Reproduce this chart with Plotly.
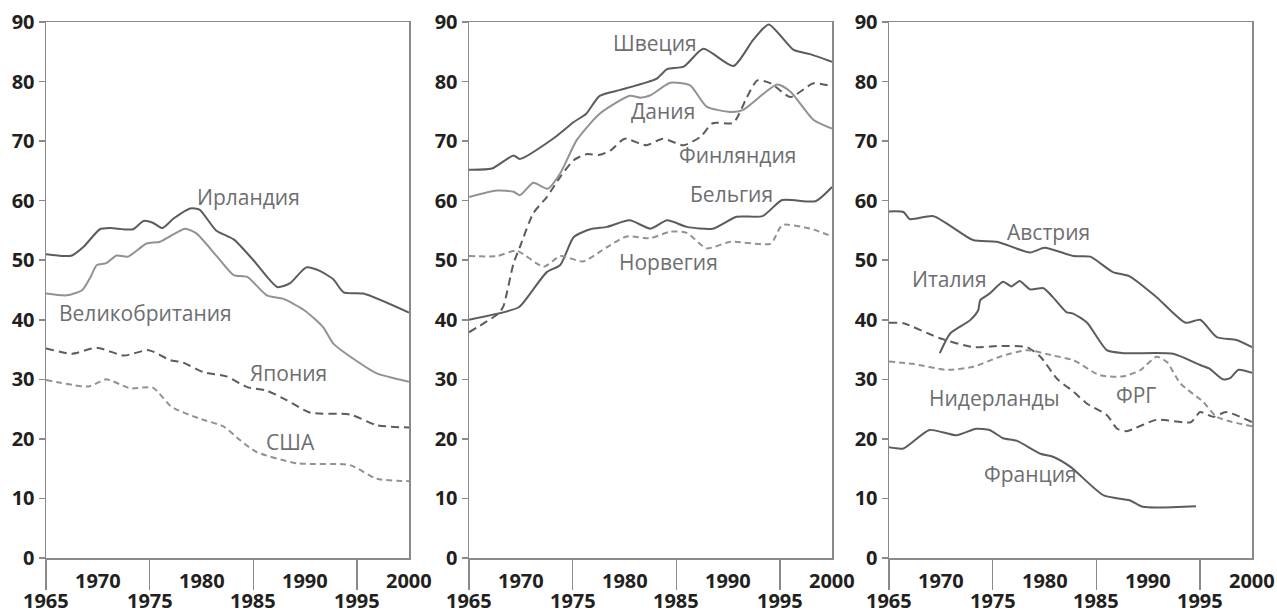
import plotly.graph_objects as go

# ---------------- data ----------------
# Panel 1
ireland_x = [1965, 1966.7, 1967.5, 1968.6, 1970.2, 1971.2, 1973.4, 1974.4, 1975.3, 1976.2, 1977.3, 1978.9, 1979.8, 1981.4, 1983.1, 1985.0, 1987.3, 1988.5, 1990.1, 1991.4, 1992.7, 1993.7, 1995.6, 2000]
ireland_y = [51.0, 50.7, 50.8, 52.2, 55.2, 55.4, 55.2, 56.6, 56.3, 55.4, 57.0, 58.7, 58.5, 55.0, 53.5, 50.0, 45.5, 46.1, 48.8, 48.2, 46.8, 44.6, 44.4, 41.2]

uk_x = [1965, 1967.0, 1968.5, 1969.3, 1969.9, 1970.8, 1971.8, 1972.9, 1974.7, 1976.0, 1978.4, 1979.5, 1981.5, 1983.1, 1984.4, 1986.3, 1987.9, 1989.9, 1991.7, 1992.7, 1994.6, 1996.9, 2000]
uk_y = [44.4, 44.1, 45.0, 47.2, 49.2, 49.5, 50.8, 50.6, 52.8, 53.1, 55.3, 54.5, 50.6, 47.5, 47.2, 44.1, 43.5, 41.6, 38.8, 36.0, 33.5, 31.0, 29.6]

japan_x = [1965, 1967.5, 1969.9, 1972.5, 1974.9, 1977.0, 1978.1, 1980.2, 1982.4, 1984.4, 1986.3, 1988.2, 1990.5, 1994.3, 1996.9, 2000]
japan_y = [35.2, 34.3, 35.3, 34.0, 34.9, 33.2, 32.9, 31.2, 30.5, 28.7, 28.1, 26.5, 24.4, 24.1, 22.3, 21.9]

usa_x = [1965, 1969.1, 1970.8, 1973.1, 1975.3, 1977.1, 1979.8, 1982.1, 1983.7, 1985.3, 1989.2, 1994.3, 1996.9, 2000]
usa_y = [29.9, 28.8, 30.0, 28.5, 28.6, 25.4, 23.4, 22.1, 19.8, 17.8, 15.9, 15.6, 13.3, 12.9]

# Panel 2
sweden_x = [1965, 1967.2, 1969.3, 1969.9, 1973.1, 1975.1, 1976.3, 1977.6, 1979.6, 1983.1, 1984.1, 1985.7, 1987.6, 1990.5, 1992.4, 1993.9, 1996.3, 1997.9, 2000]
sweden_y = [65.2, 65.4, 67.6, 67.0, 70.4, 73.2, 74.6, 77.6, 78.6, 80.5, 82.1, 82.5, 85.5, 82.6, 87.0, 89.6, 85.3, 84.6, 83.3]

denmark_x = [1965, 1967.7, 1969.3, 1969.9, 1971.2, 1972.6, 1973.8, 1975.4, 1977.6, 1980.5, 1981.5, 1982.5, 1984.4, 1986.3, 1987.9, 1990.2, 1991.4, 1994.7, 1996.0, 1998.2, 2000]
denmark_y = [60.6, 61.7, 61.5, 60.9, 63.0, 62.0, 64.6, 70.2, 74.6, 77.6, 77.3, 77.7, 79.8, 79.4, 75.8, 74.9, 75.2, 79.5, 78.3, 73.6, 72.1]

finland_x = [1965, 1967.8, 1968.3, 1969.3, 1969.9, 1971.2, 1972.5, 1973.8, 1975.1, 1976.3, 1977.6, 1978.7, 1980.0, 1982.1, 1983.7, 1985.7, 1987.3, 1988.5, 1990.5, 1991.8, 1992.8, 1994.1, 1996.0, 1998.2, 2000]
finland_y = [37.9, 41.0, 42.2, 49.5, 52.2, 57.9, 60.6, 64.0, 66.8, 67.8, 67.7, 68.5, 70.4, 69.3, 70.4, 69.3, 70.7, 73.0, 73.1, 77.4, 80.2, 79.7, 77.4, 79.7, 79.2]

belgium_x = [1965, 1969.8, 1970.9, 1972.5, 1973.8, 1975.1, 1976.7, 1978.3, 1980.5, 1982.5, 1984.1, 1986.0, 1988.5, 1990.8, 1993.3, 1995.2, 1998.4, 2000]
belgium_y = [40.0, 42.1, 44.4, 48.0, 49.2, 53.9, 55.2, 55.6, 56.7, 55.3, 56.7, 55.6, 55.3, 57.3, 57.4, 60.1, 59.9, 62.3]

norway_x = [1965, 1967.7, 1969.6, 1972.2, 1973.8, 1976.0, 1978.3, 1980.2, 1982.5, 1984.4, 1986.0, 1987.9, 1990.2, 1994.1, 1995.2, 1997.9, 2000]
norway_y = [50.7, 50.7, 51.6, 48.9, 50.7, 49.8, 52.2, 54.0, 53.7, 54.8, 54.6, 52.0, 53.1, 52.8, 55.9, 55.3, 54.0]

# Panel 3
austria_x = [1965, 1966.4, 1967.0, 1969.3, 1973.1, 1975.4, 1978.6, 1980.0, 1982.8, 1984.4, 1986.6, 1988.2, 1990.8, 1993.6, 1995.0, 1996.6, 1998.5, 2000]
austria_y = [58.2, 58.1, 56.9, 57.4, 53.4, 53.1, 51.3, 52.1, 50.7, 50.6, 48.0, 47.3, 43.8, 39.5, 40.0, 37.1, 36.6, 35.4]

italy_x = [1969.9, 1970.9, 1972.8, 1973.6, 1973.8, 1974.7, 1976.0, 1976.8, 1977.6, 1978.6, 1979.9, 1980.8, 1982.1, 1982.8, 1984.1, 1986.0, 1987.6, 1992.4, 1995.0, 1995.9, 1997.2, 1997.9, 1998.7, 2000]
italy_y = [34.4, 37.7, 39.9, 41.6, 43.3, 44.4, 46.4, 45.6, 46.5, 45.1, 45.3, 43.8, 41.3, 41.0, 39.5, 34.9, 34.4, 34.3, 32.4, 31.8, 30.0, 30.2, 31.6, 31.1]

nether_x = [1965, 1966.4, 1969.9, 1973.1, 1975.7, 1978.3, 1979.6, 1981.2, 1982.8, 1984.1, 1986.0, 1987.0, 1987.9, 1990.8, 1994.1, 1995.0, 1996.3, 1997.5, 2000]
nether_y = [39.5, 39.4, 36.9, 35.4, 35.6, 35.4, 33.8, 30.1, 27.9, 25.9, 24.0, 21.7, 21.3, 23.2, 22.8, 24.5, 23.7, 24.5, 22.8]

frg_x = [1965, 1967.3, 1970.5, 1973.1, 1975.7, 1978.3, 1980.8, 1982.8, 1985.3, 1987.6, 1989.2, 1990.8, 1991.8, 1993.1, 1995.3, 1996.6, 2000]
frg_y = [33.0, 32.6, 31.6, 32.1, 33.8, 34.9, 34.0, 33.2, 30.7, 30.5, 31.5, 33.8, 32.9, 29.3, 26.2, 23.7, 22.1]

france_x = [1965, 1966.4, 1968.9, 1971.5, 1973.4, 1974.7, 1976.0, 1977.3, 1979.6, 1980.8, 1982.5, 1985.7, 1988.2, 1989.5, 1994.6]
france_y = [18.6, 18.4, 21.5, 20.6, 21.7, 21.5, 20.1, 19.7, 17.5, 17.0, 15.3, 10.5, 9.7, 8.6, 8.7]

# labels: (text, year, value, panel)
label_text = ["Ирландия", "Великобритания", "Япония", "США",
              "Швеция", "Дания", "Финляндия", "Бельгия", "Норвегия",
              "Австрия", "Италия", "Нидерланды", "ФРГ", "Франция"]
label_year = [1984.5, 1974.6, 1988.4, 1988.6,
              1982.9, 1983.7, 1990.9, 1990.3, 1984.2,
              1980.4, 1970.8, 1975.2, 1988.8, 1978.6]
label_val = [60.6, 41.2, 31.1, 19.5,
             86.5, 75.1, 67.6, 61.2, 49.7,
             54.7, 46.9, 26.8, 27.3, 14.1]
label_panel = [1, 1, 1, 1, 2, 2, 2, 2, 2, 3, 3, 3, 3, 3]

y_ticks = [0, 10, 20, 30, 40, 50, 60, 70, 80, 90]
x_ticks_long = [1965, 1975, 1985, 1995]
x_labels_upper = [1970, 1980, 1990, 2000]
x_labels_lower = [1965, 1975, 1985, 1995]

# ---------------- styles ----------------
DARK = "#5b5c5e"
LIGHT = "#929292"
AXIS = "#8a8a8a"
TXT = "#6d6e71"
NUM = "#231f20"

W, H = 1277, 615
domains_px = [(46, 409), (469, 832), (889, 1252)]
y_top_px, y_bot_px = 22, 558

series = [
    (1, ireland_x, ireland_y, DARK, "solid"),
    (1, uk_x, uk_y, LIGHT, "solid"),
    (1, japan_x, japan_y, DARK, "8px,5px"),
    (1, usa_x, usa_y, LIGHT, "6px,4px"),
    (2, sweden_x, sweden_y, DARK, "solid"),
    (2, denmark_x, denmark_y, LIGHT, "solid"),
    (2, finland_x, finland_y, DARK, "8px,5px"),
    (2, belgium_x, belgium_y, DARK, "solid"),
    (2, norway_x, norway_y, LIGHT, "6px,4px"),
    (3, austria_x, austria_y, DARK, "solid"),
    (3, italy_x, italy_y, DARK, "solid"),
    (3, nether_x, nether_y, DARK, "8px,5px"),
    (3, frg_x, frg_y, LIGHT, "6px,4px"),
    (3, france_x, france_y, DARK, "solid"),
]

fig = go.Figure()
for p, xs, ys, col, dash in series:
    sfx = "" if p == 1 else str(p)
    fig.add_trace(go.Scatter(
        x=xs, y=ys, mode="lines", xaxis="x" + sfx, yaxis="y" + sfx,
        line=dict(color=col, width=2, dash=dash, shape="spline", smoothing=0.6),
        showlegend=False, hoverinfo="skip"))

ydom = [(H - y_bot_px) / H, (H - y_top_px) / H]
layout = dict(
    width=W, height=H,
    margin=dict(l=0, r=0, t=0, b=0),
    paper_bgcolor="white", plot_bgcolor="white",
    showlegend=False,
)
NUMFONT = dict(family="Open Sans", size=20, color=NUM, weight="bold")
for i, (x0, x1) in enumerate(domains_px, start=1):
    sfx = "" if i == 1 else str(i)
    layout["xaxis" + sfx] = dict(
        domain=[x0 / W, x1 / W], range=[1965, 2000], anchor="y" + sfx,
        showgrid=False, zeroline=False, showline=True, mirror=True,
        linecolor=AXIS, linewidth=1.5,
        tickmode="array", tickvals=x_ticks_long, ticks="outside",
        ticklen=30, tickwidth=1.5, tickcolor=AXIS, showticklabels=False,
        automargin=False, fixedrange=True)
    layout["yaxis" + sfx] = dict(
        domain=ydom, range=[0, 90], anchor="x" + sfx,
        showgrid=False, zeroline=False, showline=True, mirror=True,
        linecolor=AXIS, linewidth=1.5,
        tickmode="array", tickvals=y_ticks, ticks="outside",
        ticklen=6, tickwidth=1.5, tickcolor=AXIS,
        tickfont=NUMFONT,
        automargin=False, fixedrange=True)
fig.update_layout(**layout)

annotations = []
for i in range(1, 4):
    sfx = "" if i == 1 else str(i)
    for v in x_labels_upper:
        annotations.append(dict(x=v, y=(H - 580) / H, xref="x" + sfx, yref="paper",
                                text=str(v), showarrow=False, xanchor="center", yanchor="middle",
                                font=NUMFONT))
    for v in x_labels_lower:
        annotations.append(dict(x=v, y=(H - 600) / H, xref="x" + sfx, yref="paper",
                                text=str(v), showarrow=False, xanchor="center", yanchor="middle",
                                font=NUMFONT))
for t, xv, yv, p in zip(label_text, label_year, label_val, label_panel):
    sfx = "" if p == 1 else str(p)
    annotations.append(dict(x=xv, y=yv, xref="x" + sfx, yref="y" + sfx, text=t,
                            showarrow=False, xanchor="center", yanchor="middle",
                            font=dict(family="Open Sans", size=21, color=TXT)))
fig.update_layout(annotations=annotations)

fig.write_html("out.html", config={"displayModeBar": False, "staticPlot": True},
               post_script="document.body.style.margin='0';document.body.style.overflow='hidden';")
